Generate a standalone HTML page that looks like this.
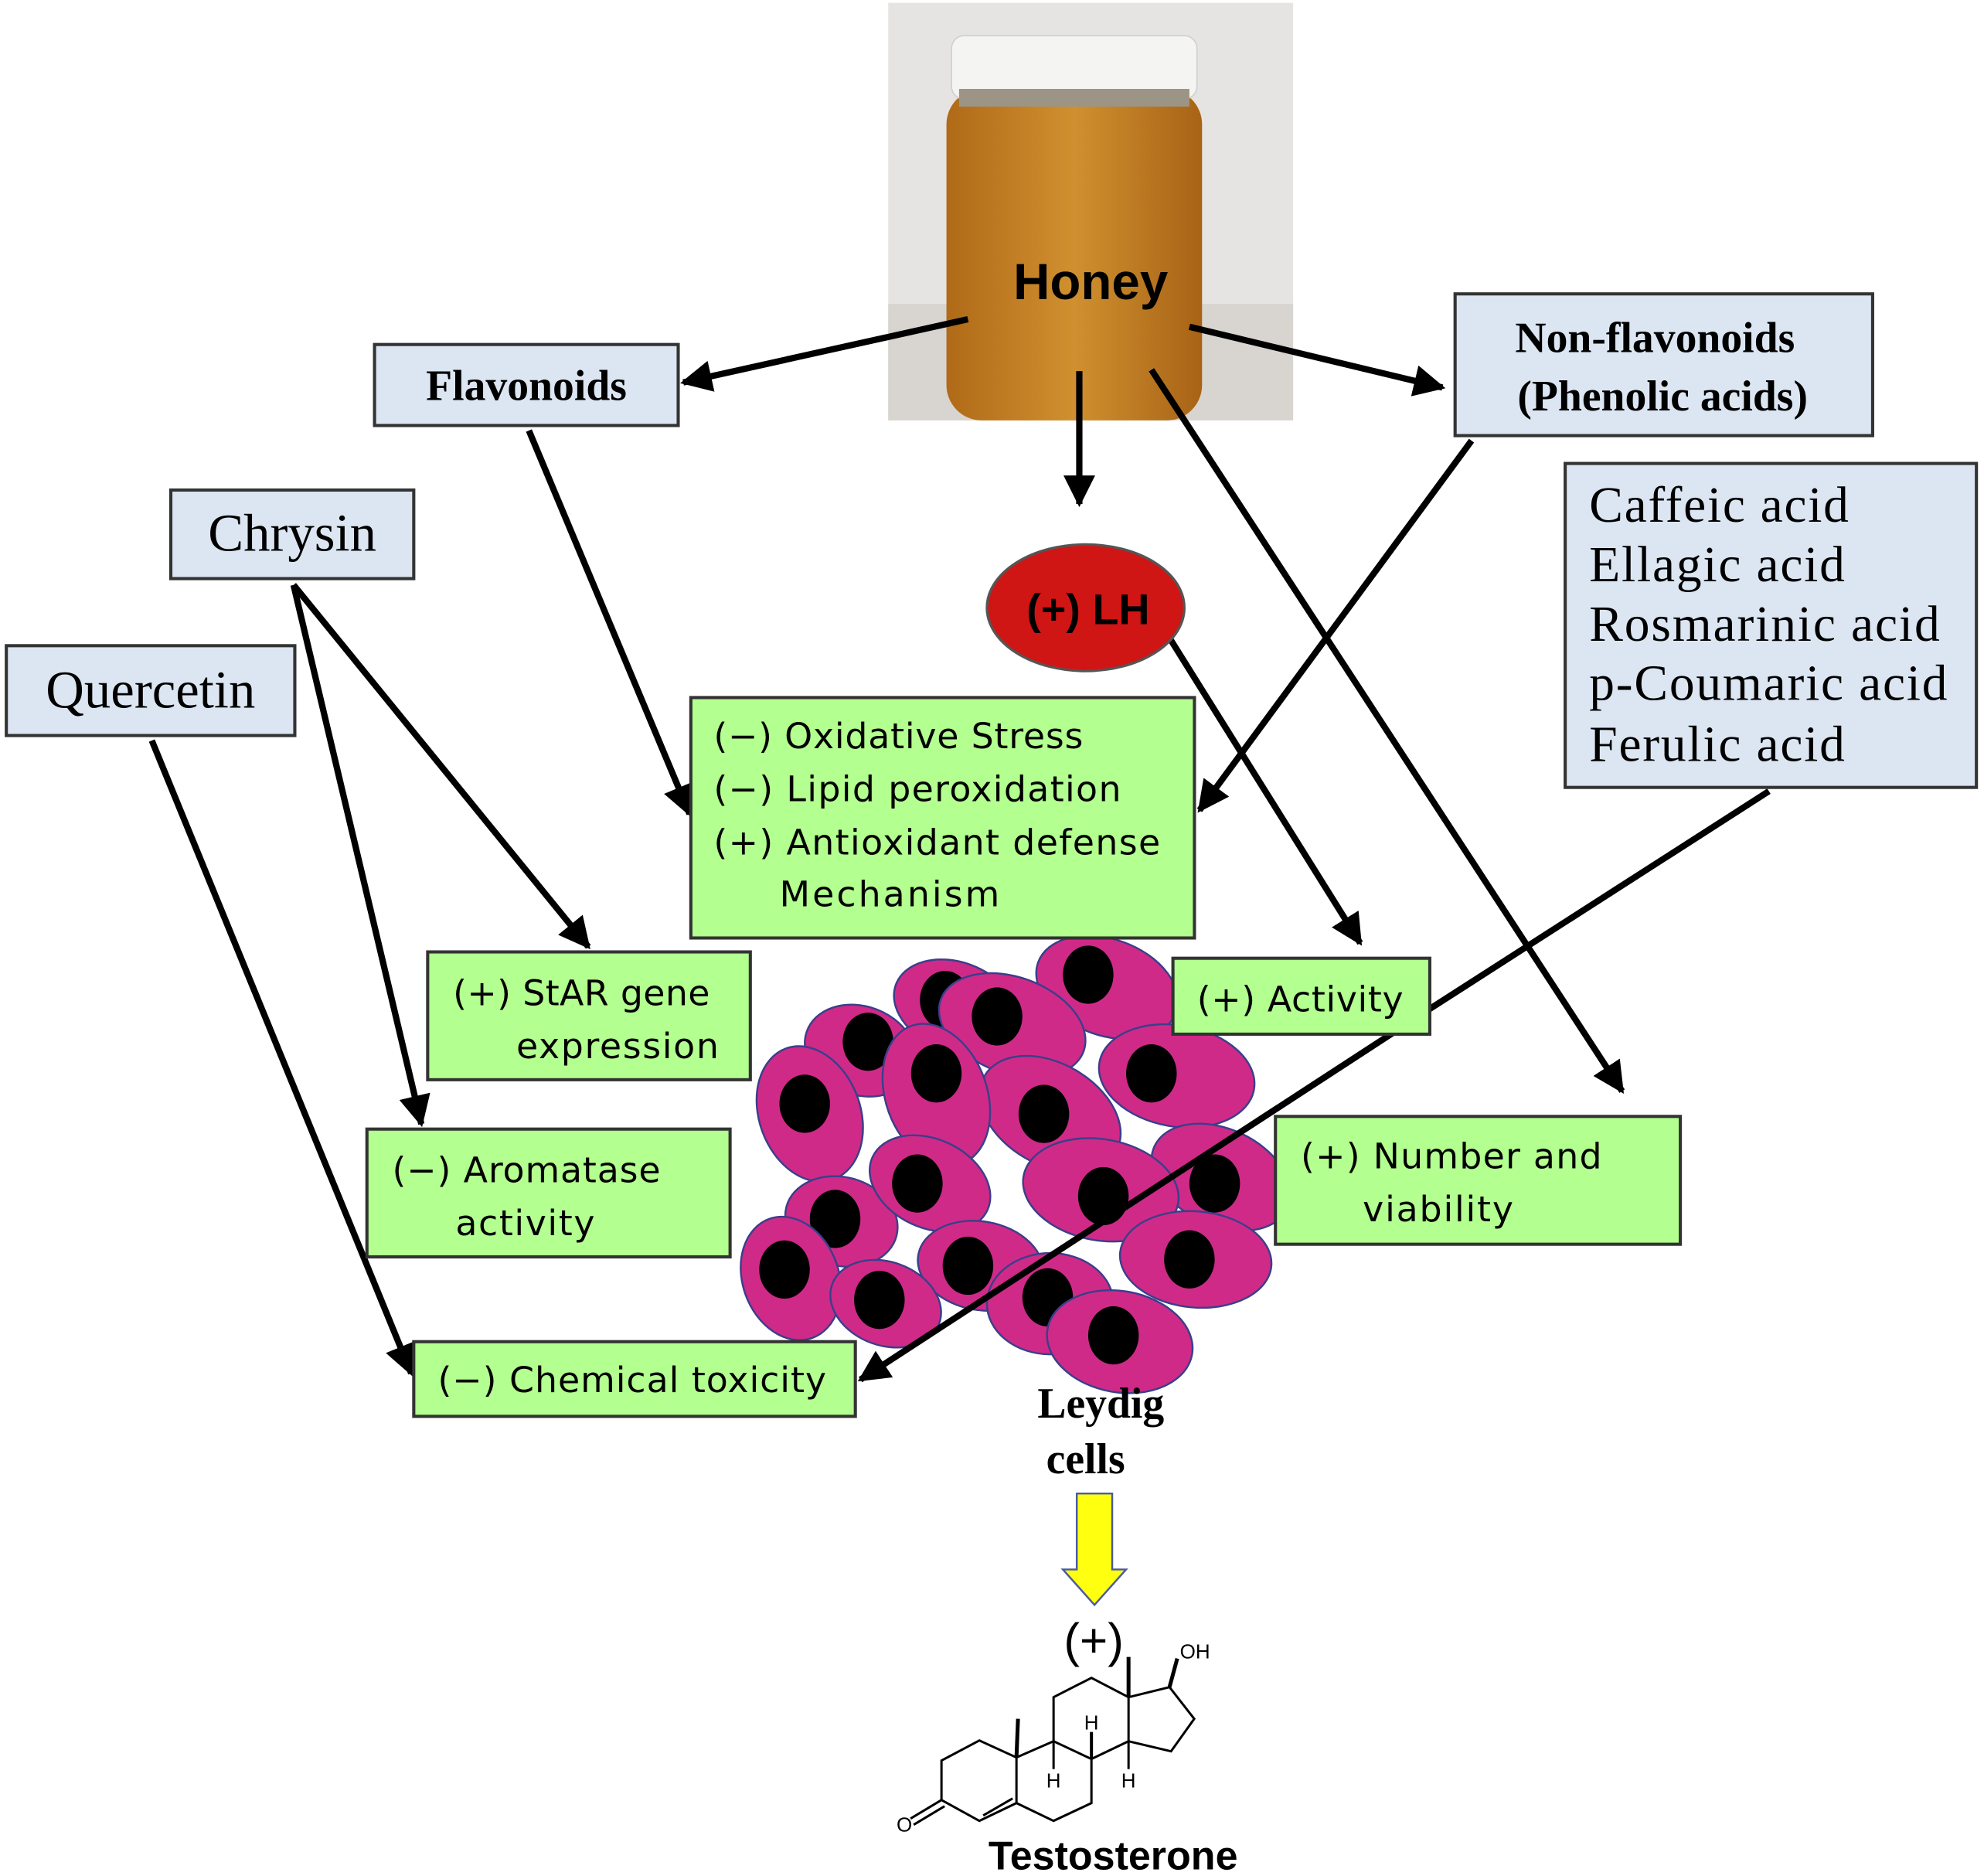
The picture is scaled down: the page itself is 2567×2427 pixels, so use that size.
<!DOCTYPE html>
<html><head><meta charset="utf-8"><style>
html,body{margin:0;padding:0;background:#fff;}
svg{display:block;}
.serif{font-family:"Liberation Serif",serif;}
.sans{font-family:"Liberation Sans",sans-serif;}
.dv{font-family:"DejaVu Sans","Liberation Sans",sans-serif;}
</style></head><body>
<svg width="2567" height="2427" viewBox="0 0 1568 1482" xmlns="http://www.w3.org/2000/svg">
<defs>
<marker id="ah" markerWidth="5" markerHeight="5" refX="4.5" refY="2.5" orient="auto" markerUnits="strokeWidth"><path d="M0,0 L5,2.5 L0,5 z" fill="#000"/></marker>
<linearGradient id="jar" x1="0" x2="1"><stop offset="0" stop-color="#b06a18"/><stop offset="0.5" stop-color="#d0902f"/><stop offset="1" stop-color="#a86316"/></linearGradient>
</defs>

<g>
<rect x="702" y="2" width="320" height="330" fill="#e6e4e2"/>
<rect x="702" y="240" width="320" height="92" fill="#d8d4d0"/>
<rect x="748" y="70" width="202" height="262" rx="28" fill="url(#jar)"/>
<rect x="752" y="28" width="194" height="50" rx="10" fill="#f4f4f2" stroke="#cfcfcf"/>
<rect x="758" y="70" width="182" height="14" fill="#9c9484"/>
<text x="862" y="236" class="sans" font-size="40" font-weight="bold" text-anchor="middle">Honey</text>
</g>

<g stroke="#000" stroke-width="5" fill="none" marker-end="url(#ah)">
<line x1="765" y1="252" x2="540" y2="302"/>
<line x1="940" y1="258" x2="1140" y2="306"/>
<line x1="853" y1="293" x2="853" y2="398"/>
<line x1="910" y1="292" x2="1282" y2="862"/>
<line x1="418" y1="340" x2="545" y2="643"/>
<line x1="1163" y1="348" x2="948" y2="640"/>
<line x1="925" y1="505" x2="1075" y2="745"/>
<line x1="232" y1="462" x2="465" y2="748"/>
<line x1="232" y1="462" x2="333" y2="888"/>
<line x1="120" y1="585" x2="325" y2="1085"/>
<line x1="1398" y1="625" x2="1130" y2="797" marker-end="none"/>
</g>

<g class="serif" fill="#000">
<rect x="296" y="272" width="240" height="64" fill="#dce6f2" stroke="#333" stroke-width="2.5"/>
<text x="416" y="316" font-size="34" font-weight="bold" text-anchor="middle">Flavonoids</text>
<rect x="1150" y="232" width="330" height="112" fill="#dce6f2" stroke="#333" stroke-width="2.5"/>
<text x="1308" y="278" font-size="34" font-weight="bold" text-anchor="middle">Non-flavonoids</text>
<text x="1314" y="324" font-size="34" font-weight="bold" text-anchor="middle">(Phenolic acids)</text>
<rect x="1237" y="366" width="325" height="256" fill="#dce6f2" stroke="#333" stroke-width="2.5"/>
<g font-size="40">
<text x="1256" y="412" textLength="205">Caffeic acid</text>
<text x="1256" y="459" textLength="202">Ellagic acid</text>
<text x="1256" y="506" textLength="277">Rosmarinic acid</text>
<text x="1256" y="553" textLength="283">p-Coumaric acid</text>
<text x="1256" y="601" textLength="202">Ferulic acid</text>
</g>
<rect x="135" y="387" width="192" height="70" fill="#dce6f2" stroke="#333" stroke-width="2.5"/>
<text x="231" y="435" font-size="42" text-anchor="middle">Chrysin</text>
<rect x="5" y="510" width="228" height="71" fill="#dce6f2" stroke="#333" stroke-width="2.5"/>
<text x="119" y="559" font-size="42" text-anchor="middle">Quercetin</text>
</g>

<ellipse cx="858" cy="480" rx="78" ry="50" fill="#d01515" stroke="#555" stroke-width="2"/>
<text x="860" y="493" class="sans" font-size="34" font-weight="bold" text-anchor="middle">(+) LH</text>

<g stroke="#3a3f8a" stroke-width="1.5">
<g><ellipse cx="755" cy="795" rx="50" ry="35" transform="rotate(20 755 795)" fill="#d02a88"/><ellipse cx="747" cy="790" rx="20" ry="23" fill="#000" stroke="none"/></g>
<g><ellipse cx="875" cy="780" rx="58" ry="38" transform="rotate(20 875 780)" fill="#d02a88"/><ellipse cx="860" cy="770" rx="20" ry="23" fill="#000" stroke="none"/></g>
<g><ellipse cx="680" cy="830" rx="45" ry="35" transform="rotate(20 680 830)" fill="#d02a88"/><ellipse cx="686" cy="823" rx="20" ry="23" fill="#000" stroke="none"/></g>
<g><ellipse cx="800" cy="810" rx="60" ry="38" transform="rotate(20 800 810)" fill="#d02a88"/><ellipse cx="788" cy="803" rx="20" ry="23" fill="#000" stroke="none"/></g>
<g><ellipse cx="930" cy="850" rx="62" ry="40" transform="rotate(10 930 850)" fill="#d02a88"/><ellipse cx="910" cy="848" rx="20" ry="23" fill="#000" stroke="none"/></g>
<g><ellipse cx="640" cy="880" rx="40" ry="55" transform="rotate(-20 640 880)" fill="#d02a88"/><ellipse cx="636" cy="872" rx="20" ry="23" fill="#000" stroke="none"/></g>
<g><ellipse cx="830" cy="880" rx="60" ry="40" transform="rotate(30 830 880)" fill="#d02a88"/><ellipse cx="825" cy="880" rx="20" ry="23" fill="#000" stroke="none"/></g>
<g><ellipse cx="740" cy="865" rx="40" ry="58" transform="rotate(-20 740 865)" fill="#d02a88"/><ellipse cx="740" cy="848" rx="20" ry="23" fill="#000" stroke="none"/></g>
<g><ellipse cx="965" cy="930" rx="58" ry="38" transform="rotate(25 965 930)" fill="#d02a88"/><ellipse cx="960" cy="935" rx="20" ry="23" fill="#000" stroke="none"/></g>
<g><ellipse cx="870" cy="940" rx="62" ry="40" transform="rotate(10 870 940)" fill="#d02a88"/><ellipse cx="872" cy="945" rx="20" ry="23" fill="#000" stroke="none"/></g>
<g><ellipse cx="665" cy="965" rx="45" ry="35" transform="rotate(15 665 965)" fill="#d02a88"/><ellipse cx="660" cy="963" rx="20" ry="23" fill="#000" stroke="none"/></g>
<g><ellipse cx="735" cy="935" rx="50" ry="35" transform="rotate(25 735 935)" fill="#d02a88"/><ellipse cx="725" cy="935" rx="20" ry="23" fill="#000" stroke="none"/></g>
<g><ellipse cx="945" cy="995" rx="60" ry="38" transform="rotate(5 945 995)" fill="#d02a88"/><ellipse cx="940" cy="995" rx="20" ry="23" fill="#000" stroke="none"/></g>
<g><ellipse cx="625" cy="1010" rx="38" ry="50" transform="rotate(-20 625 1010)" fill="#d02a88"/><ellipse cx="620" cy="1003" rx="20" ry="23" fill="#000" stroke="none"/></g>
<g><ellipse cx="775" cy="1000" rx="50" ry="35" transform="rotate(10 775 1000)" fill="#d02a88"/><ellipse cx="765" cy="1000" rx="20" ry="23" fill="#000" stroke="none"/></g>
<g><ellipse cx="830" cy="1030" rx="50" ry="40" fill="#d02a88"/><ellipse cx="828" cy="1025" rx="20" ry="23" fill="#000" stroke="none"/></g>
<g><ellipse cx="700" cy="1030" rx="45" ry="33" transform="rotate(20 700 1030)" fill="#d02a88"/><ellipse cx="695" cy="1027" rx="20" ry="23" fill="#000" stroke="none"/></g>
<g><ellipse cx="885" cy="1060" rx="58" ry="40" transform="rotate(10 885 1060)" fill="#d02a88"/><ellipse cx="880" cy="1055" rx="20" ry="23" fill="#000" stroke="none"/></g>
</g>
<line x1="1130" y1="797" x2="680" y2="1090" stroke="#000" stroke-width="5" marker-end="url(#ah)"/>

<g class="dv" font-size="28" fill="#000">
<rect x="546" y="551" width="398" height="190" fill="#b3ff8f" stroke="#333" stroke-width="2.5"/>
<text x="564" y="591" textLength="292">(−) Oxidative Stress</text>
<text x="564" y="633" textLength="322">(−) Lipid peroxidation</text>
<text x="564" y="675" textLength="353">(+) Antioxidant defense</text>
<text x="616" y="716" textLength="174">Mechanism</text>
<rect x="338" y="752" width="255" height="101" fill="#b3ff8f" stroke="#333" stroke-width="2.5"/>
<text x="358" y="794" textLength="203">(+) StAR gene</text>
<text x="408" y="836" textLength="160">expression</text>
<rect x="927" y="757" width="203" height="60" fill="#b3ff8f" stroke="#333" stroke-width="2.5"/>
<text x="946" y="799" textLength="163">(+) Activity</text>
<rect x="290" y="892" width="287" height="101" fill="#b3ff8f" stroke="#333" stroke-width="2.5"/>
<text x="310" y="934" textLength="212">(−) Aromatase</text>
<text x="360" y="976" textLength="110">activity</text>
<rect x="1008" y="882" width="320" height="101" fill="#b3ff8f" stroke="#333" stroke-width="2.5"/>
<text x="1028" y="923" textLength="238">(+) Number and</text>
<text x="1077" y="965" textLength="119">viability</text>
<rect x="327" y="1060" width="349" height="59" fill="#b3ff8f" stroke="#333" stroke-width="2.5"/>
<text x="346" y="1100" textLength="307">(−) Chemical toxicity</text>
</g>

<g class="serif" font-size="34" font-weight="bold" text-anchor="middle">
<text x="870" y="1120">Leydig</text>
<text x="858" y="1164">cells</text>
</g>

<path d="M851,1180 L879,1180 L879,1240 L890,1240 L865,1268 L840,1240 L851,1240 Z" fill="#ffff10" stroke="#4a5aa0" stroke-width="1.5"/>

<g transform="scale(0.6109)">
<text x="1415" y="2143" class="sans" font-size="62" text-anchor="middle">(+)</text>
<g stroke="#000" stroke-width="3" fill="none">
<polyline points="1218,2328 1218,2277 1267,2251 1315,2273 1315,2332 1267,2355 1218,2328"/>
<polyline points="1315,2273 1363,2252 1412,2275 1412,2332 1363,2355 1315,2332"/>
<polyline points="1363,2252 1363,2195 1412,2170 1460,2195 1460,2252 1412,2275"/>
<polyline points="1460,2195 1513,2182 1545,2223 1515,2265 1460,2252"/>
<line x1="1315" y1="2273" x2="1317" y2="2223" stroke-width="5"/>
<line x1="1460" y1="2195" x2="1460" y2="2143" stroke-width="5"/>
<line x1="1513" y1="2182" x2="1523" y2="2145" stroke-width="5"/>
<line x1="1218" y1="2328" x2="1178" y2="2352"/>
<line x1="1222" y1="2336" x2="1182" y2="2360"/>
<line x1="1272" y1="2348" x2="1310" y2="2326"/>
<line x1="1412" y1="2275" x2="1412" y2="2240" stroke-width="4"/>
<line x1="1363" y1="2252" x2="1363" y2="2288" stroke-width="3"/>
<line x1="1460" y1="2252" x2="1460" y2="2288" stroke-width="3"/>
</g>
<g class="sans" font-size="26" text-anchor="middle">
<text x="1170" y="2369">O</text>
<text x="1546" y="2145">OH</text>
<text x="1412" y="2237">H</text>
<text x="1363" y="2312">H</text>
<text x="1460" y="2312">H</text>
</g>
<text x="1440" y="2418" class="sans" font-size="52" font-weight="bold" text-anchor="middle">Testosterone</text>
</g>
</svg>
</body></html>
